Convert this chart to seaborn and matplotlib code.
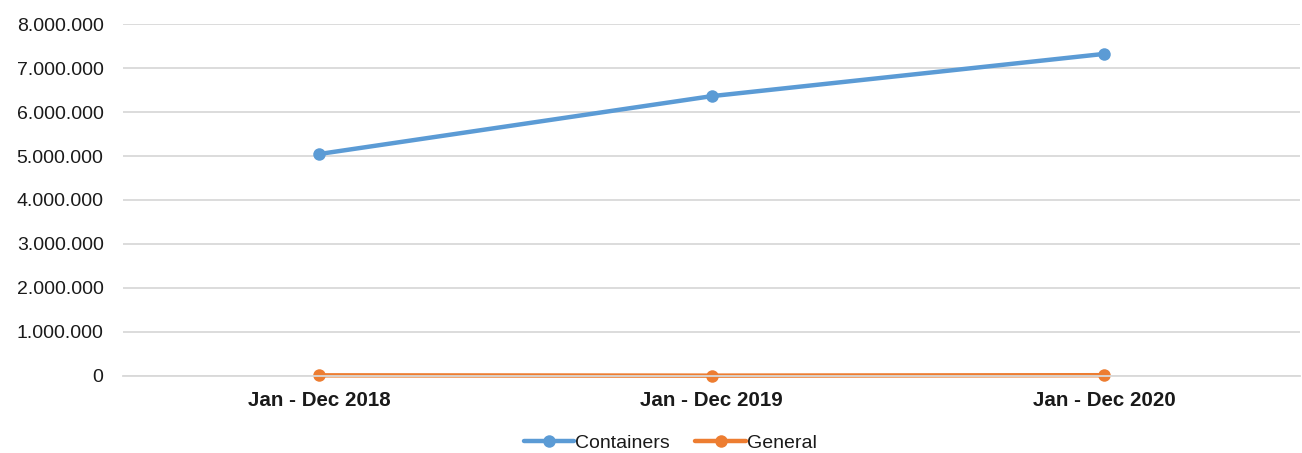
import seaborn as sns
import matplotlib.pyplot as plt
import numpy as np
import pandas as pd
from matplotlib.ticker import FuncFormatter

periods = ['Jan - Dec 2018', 'Jan - Dec 2019', 'Jan - Dec 2020']
containers = [5045000, 6360000, 7320000]
general = [15000, 8000, 18000]

df = pd.DataFrame({
    'period': periods * 2,
    'value': containers + general,
    'series': ['Containers'] * 3 + ['General'] * 3,
})

sns.set_style('white')
plt.rcParams['font.family'] = ['Liberation Sans', 'DejaVu Sans']

fig = plt.figure(figsize=(13.02, 4.53), dpi=100)
ax = fig.add_axes([0.0945, 0.170, 0.904, 0.777])

palette = {'Containers': '#5B9BD5', 'General': '#ED7D31'}
sns.lineplot(data=df, x='period', y='value', hue='series', palette=palette,
             marker='o', markersize=9, markeredgewidth=0, linewidth=3.2,
             ax=ax, sort=False)
for ln in ax.lines:
    ln.set_clip_on(False)

ax.set_ylim(0, 8000000)
ax.set_yticks(np.arange(0, 8000001, 1000000))
ax.set_xlim(-0.5, 2.5)
ax.yaxis.set_major_formatter(FuncFormatter(lambda v, p: f'{int(v):,}'.replace(',', '.')))
ax.grid(axis='y', color='#D9D9D9', linewidth=1.3)
ax.set_axisbelow(True)
for s in ['top', 'right', 'left']:
    ax.spines[s].set_visible(False)
ax.spines['bottom'].set_color('#D9D9D9')
ax.spines['bottom'].set_linewidth(1.3)
ax.tick_params(axis='both', length=0)
ax.tick_params(axis='y', labelsize=14, colors='#1a1a1a', pad=14)
ax.tick_params(axis='x', labelsize=14.8, colors='#1a1a1a', pad=11)
for lbl in ax.get_xticklabels():
    lbl.set_fontweight('bold')
ax.set_xlabel('')
ax.set_ylabel('')

leg = ax.legend(loc='center', bbox_to_anchor=(0.465, -0.19), ncol=2, frameon=False,
                fontsize=14, handlelength=2.6, handletextpad=0.05, columnspacing=1.3)
for t in leg.get_texts():
    t.set_color('#1a1a1a')

fig.savefig('out.png', dpi=100)
